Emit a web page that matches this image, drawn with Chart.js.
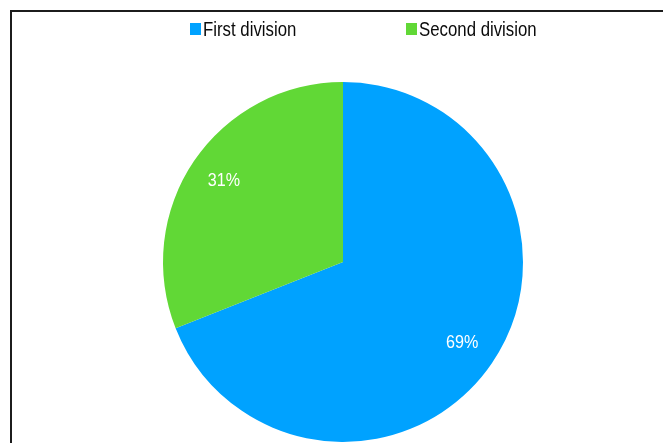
<!DOCTYPE html>
<html>
<head>
<meta charset="utf-8">
<script src="https://cdn.jsdelivr.net/npm/chart.js@4/dist/chart.umd.min.js"></script>
<style>
  html, body { margin: 0; padding: 0; background: #fff; width: 663px; height: 443px; overflow: hidden; }
  #frame { position: absolute; left: 10px; top: 10px; width: 700px; height: 500px;
           border-left: 2px solid #1c1c1c; border-top: 2px solid #1c1c1c; }
  #chart { position: absolute; left: 0; top: 0; }
  .lg { position: absolute; top: 17px; height: 24px; line-height: 24px; white-space: nowrap;
        font-family: "Liberation Sans", Arial, sans-serif; font-size: 21px; color: #0a0a0a; }
  .lg .box { position: absolute; left: 0; top: 6px; width: 11px; height: 12px; }
  .lg .txt { position: absolute; left: 13px; top: 0; transform: scaleX(0.8); transform-origin: 0 50%; }
</style>
</head>
<body>
<div id="frame"></div>
<canvas id="chart" width="663" height="443"></canvas>
<div id="legend"></div>
<script>
const categories = ['First division', 'Second division'];
const values = [69, 31];
const colors = ['#00A2FF', '#61D836'];
const legendX = [190, 406];

// HTML legend built from the same arrays
const legend = document.getElementById('legend');
categories.forEach((c, i) => {
  const item = document.createElement('div');
  item.className = 'lg';
  item.style.left = legendX[i] + 'px';
  item.innerHTML = '<span class="box" style="background:' + colors[i] + '"></span><span class="txt"></span>';
  item.querySelector('.txt').textContent = c;
  legend.appendChild(item);
});

const pctLabels = {
  id: 'pctLabels',
  afterDatasetsDraw(chart) {
    const ctx = chart.ctx;
    const meta = chart.getDatasetMeta(0);
    ctx.save();
    ctx.fillStyle = '#ffffff';
    ctx.font = '19px "Liberation Sans", Arial, sans-serif';
    ctx.textAlign = 'center';
    ctx.textBaseline = 'middle';
    meta.data.forEach((arc, i) => {
      const p = arc.getProps(['x', 'y', 'startAngle', 'endAngle', 'outerRadius'], true);
      const mid = (p.startAngle + p.endAngle) / 2;
      const r = p.outerRadius * 0.8;
      const txt = values[i] + '%';
      const w = ctx.measureText(txt).width * 0.85;
      ctx.fillText(txt, p.x + Math.cos(mid) * r, p.y + Math.sin(mid) * r, w);
    });
    ctx.restore();
  }
};

new Chart(document.getElementById('chart'), {
  type: 'pie',
  data: {
    labels: categories,
    datasets: [{
      data: values,
      backgroundColor: colors,
      borderWidth: 0,
      hoverOffset: 0
    }]
  },
  options: {
    responsive: false,
    devicePixelRatio: 1,
    animation: false,
    layout: { padding: { left: 163, right: 140, top: 82, bottom: 1 } },
    plugins: {
      legend: { display: false },
      tooltip: { enabled: false }
    }
  },
  plugins: [pctLabels]
});
</script>
</body>
</html>
